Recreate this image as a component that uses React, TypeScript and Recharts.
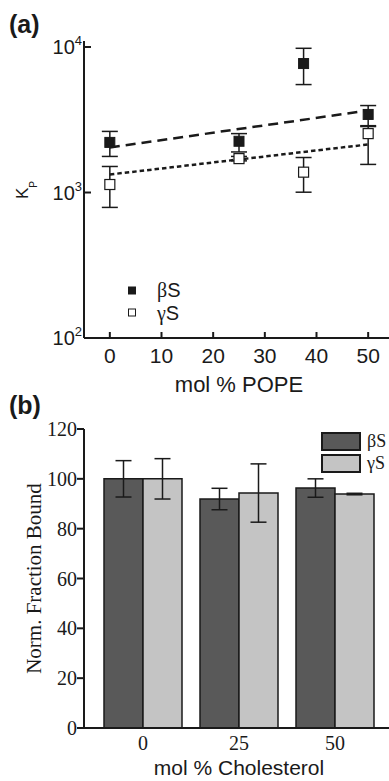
import React from "react";
import { Bar, BarChart, ComposedChart, ErrorBar, Legend, Scatter, XAxis, YAxis } from "recharts";

// panel (a): partition coefficient vs mol % POPE
const popeMol = [0, 25, 37.5, 50];
const betaKp = [2210, 2250, 7700, 3440];
const betaKpLow = [1770, 1900, 5520, 2840];
const betaKpHigh = [2630, 2540, 9800, 3960];
const gammaKp = [1135, 1710, 1380, 2540];
const gammaKpLow = [790, 1650, 1005, 1560];
const gammaKpHigh = [1510, 1770, 1740, 2880];
const fitMol = [0, 50];
const betaFit = [2040, 3660];
const gammaFit = [1330, 2140];
const popeTicks = [0, 10, 20, 30, 40, 50];
const kpTicks = [100, 1000, 10000];

// panel (b): normalized fraction bound vs mol % cholesterol
const cholesterolMol = ["0", "25", "50"];
const betaBound = [100, 91.9, 96.3];
const betaBoundErr = [7.3, 4.3, 3.7];
const gammaBound = [100, 94.3, 93.9];
const gammaBoundErr = [8.1, 11.7, 0.3];
const boundTicks = [0, 20, 40, 60, 80, 100, 120];

const SANS = "'Liberation Sans', Arial, sans-serif";
const SERIF = "'Liberation Serif', 'Times New Roman', serif";
const INK = "#1a1a1a";

const toPoints = (vals: number[], lo: number[], hi: number[]) =>
  popeMol.map((x, i) => ({ x, y: vals[i], err: [vals[i] - lo[i], hi[i] - vals[i]] }));

const betaPoints = toPoints(betaKp, betaKpLow, betaKpHigh);
const gammaPoints = toPoints(gammaKp, gammaKpLow, gammaKpHigh);
const betaFitPoints = fitMol.map((x, i) => ({ x, y: betaFit[i] }));
const gammaFitPoints = fitMol.map((x, i) => ({ x, y: gammaFit[i] }));

const boundRows = cholesterolMol.map((cat, i) => ({
  cat,
  beta: betaBound[i],
  betaErr: betaBoundErr[i],
  gamma: gammaBound[i],
  gammaErr: gammaBoundErr[i],
}));

const FilledSquare = (p: any) => (
  <rect x={p.cx - 5} y={p.cy - 5} width={10} height={10} fill={INK} stroke={INK} strokeWidth={1} />
);
const OpenSquare = (p: any) => (
  <rect x={p.cx - 5} y={p.cy - 5} width={10} height={10} fill="#fff" stroke={INK} strokeWidth={1.2} />
);
const NoDot = () => <g />;

const PowTick = ({ x, y, payload }: any) => {
  const exp = Math.round(Math.log10(payload.value));
  return (
    <g>
      <line x1={x} x2={x + 7} y1={y} y2={y} stroke={INK} strokeWidth={2} />
      <text x={x - 2} y={y + 7} textAnchor="end" fontFamily={SANS} fontSize={20} fill={INK}>
        10
        <tspan dy={-9} fontSize={13}>
          {exp}
        </tspan>
      </text>
    </g>
  );
};

const PopeTick = ({ x, y, payload }: any) => (
  <g>
    <line x1={x} x2={x} y1={y} y2={y - 6} stroke={INK} strokeWidth={2} />
    <text x={x} y={y + 25} textAnchor="middle" fontFamily={SANS} fontSize={21} fill={INK}>
      {payload.value}
    </text>
  </g>
);

const KpLabel = () => (
  <text x={28} y={199} transform="rotate(-90, 28, 199)" fontFamily={SANS} fontSize={17} fill={INK}>
    K
    <tspan dy={9} fontSize={10}>
      P
    </tspan>
  </text>
);

const keyItems = (payload: any) =>
  (payload || []).filter((e: any) => e && e.type !== "none" && typeof e.value === "string");

const ScatterKey = ({ payload }: any) => (
  <svg width={80} height={54}>
    {keyItems(payload).map((e: any, i: number) => (
      <g key={e.value}>
        <rect
          x={0.5}
          y={10 + i * 22}
          width={7}
          height={7}
          fill={e.color}
          stroke={INK}
          strokeWidth={1}
        />
        <text x={29} y={20 + i * 23} fontSize={20} fill={INK}>
          <tspan fontFamily={SERIF}>{e.value.charAt(0)}</tspan>
          <tspan fontFamily={SANS}>{e.value.slice(1)}</tspan>
        </text>
      </g>
    ))}
  </svg>
);

const BarKey = ({ payload }: any) => (
  <svg width={68} height={54}>
    {keyItems(payload).map((e: any, i: number) => (
      <g key={e.value}>
        <rect x={1} y={6 + i * 22} width={38} height={17} fill={e.color} stroke={INK} strokeWidth={2} />
        <text x={46} y={20 + i * 22} fontFamily={SERIF} fontSize={18} fill={INK}>
          {e.value}
        </text>
      </g>
    ))}
  </svg>
);

const Title = ({ text, top }: { text: string; top: number }) => (
  <svg style={{ position: "absolute", left: 0, top }} width={60} height={45}>
    <text x={9} y={33} fontFamily={SANS} fontWeight="bold" fontSize={25} fill={INK}>
      {text}
    </text>
  </svg>
);

export default function App() {
  return (
    <div
      style={{
        position: "absolute",
        left: 0,
        top: 0,
        width: 389,
        height: 781,
        overflow: "hidden",
        background: "#fff",
      }}
    >
      <Title text="(a)" top={0} />
      <div style={{ position: "absolute", left: 0, top: 0 }}>
        <ComposedChart width={420} height={400} margin={{ top: 41, right: 26, bottom: 12, left: 0 }}>
          <XAxis
            dataKey="x"
            type="number"
            domain={[-5, 55]}
            ticks={popeTicks}
            height={50}
            tickSize={0}
            tickMargin={0}
            tick={<PopeTick />}
            axisLine={{ stroke: INK, strokeWidth: 2 }}
            label={{
              value: "mol % POPE",
              position: "insideBottom",
              offset: -4,
              fontFamily: SANS,
              fontSize: 22,
              fill: INK,
            }}
          />
          <XAxis
            xAxisId="top"
            orientation="top"
            type="number"
            domain={[-5, 55]}
            height={0}
            tick={false}
            tickLine={false}
            axisLine={{ stroke: INK, strokeWidth: 2 }}
          />
          <YAxis
            dataKey="y"
            scale="log"
            domain={[100, 11000]}
            allowDataOverflow
            ticks={kpTicks}
            width={84}
            tickSize={0}
            tickMargin={0}
            tick={<PowTick />}
            axisLine={{ stroke: INK, strokeWidth: 2 }}
            label={{ content: () => <KpLabel /> }}
          />
          <Legend
            layout="vertical"
            align="center"
            verticalAlign="middle"
            content={<ScatterKey />}
            wrapperStyle={{ position: "absolute", left: 128, top: 277, width: 80, height: 54 }}
          />
          <Scatter
            data={betaFitPoints}
            legendType="none"
            shape={NoDot}
            line={{ stroke: INK, strokeWidth: 2.5, strokeDasharray: "10 6" }}
            isAnimationActive={false}
          />
          <Scatter
            data={gammaFitPoints}
            legendType="none"
            shape={NoDot}
            line={{ stroke: INK, strokeWidth: 2.5, strokeDasharray: "4.5 3" }}
            isAnimationActive={false}
          />
          <Scatter name="βS" data={betaPoints} fill={INK} shape={FilledSquare} isAnimationActive={false}>
            <ErrorBar dataKey="err" direction="y" width={8} stroke={INK} strokeWidth={1.5} />
          </Scatter>
          <Scatter name="γS" data={gammaPoints} fill="#fff" shape={OpenSquare} isAnimationActive={false}>
            <ErrorBar dataKey="err" direction="y" width={8} stroke={INK} strokeWidth={1.5} />
          </Scatter>
        </ComposedChart>
      </div>

      <Title text="(b)" top={381} />
      <div style={{ position: "absolute", left: 0, top: 390 }}>
        <BarChart
          width={420}
          height={391}
          data={boundRows}
          barGap={0}
          margin={{ top: 39, right: 26, bottom: 0, left: 0 }}
        >
          <XAxis
            dataKey="cat"
            padding={{ left: 11, right: 11 }}
            height={53}
            tickLine={false}
            tickSize={0}
            tickMargin={8}
            tick={{ fontFamily: SERIF, fontSize: 20, fill: INK }}
            axisLine={{ stroke: INK, strokeWidth: 2 }}
            label={{
              value: "mol % Cholesterol",
              position: "insideBottom",
              offset: 6,
              fontFamily: SANS,
              fontSize: 21,
              fill: INK,
            }}
          />
          <XAxis
            xAxisId="top"
            orientation="top"
            dataKey="cat"
            height={0}
            tick={false}
            tickLine={false}
            axisLine={{ stroke: INK, strokeWidth: 2 }}
          />
          <YAxis
            domain={[0, 120]}
            ticks={boundTicks}
            width={84}
            tickSize={7}
            tickMargin={0}
            tickLine={{ stroke: INK, strokeWidth: 2 }}
            tick={{ fontFamily: SERIF, fontSize: 20, fill: INK }}
            axisLine={{ stroke: INK, strokeWidth: 2 }}
            label={{
              value: "Norm. Fraction Bound",
              angle: -90,
              position: "insideLeft",
              offset: 34,
              style: { textAnchor: "middle" },
              fontFamily: SERIF,
              fontSize: 21,
              fill: INK,
            }}
          />
          <Legend
            layout="vertical"
            align="center"
            verticalAlign="middle"
            content={<BarKey />}
            wrapperStyle={{ position: "absolute", left: 321, top: 37, width: 68, height: 54 }}
          />
          <Bar
            dataKey="beta"
            name="βS"
            fill="#595959"
            stroke={INK}
            strokeWidth={1.5}
            barSize={39}
            isAnimationActive={false}
          >
            <ErrorBar dataKey="betaErr" direction="y" width={8} stroke={INK} strokeWidth={1.5} />
          </Bar>
          <Bar
            dataKey="gamma"
            name="γS"
            fill="#c4c4c4"
            stroke={INK}
            strokeWidth={1.5}
            barSize={39}
            isAnimationActive={false}
          >
            <ErrorBar dataKey="gammaErr" direction="y" width={8} stroke={INK} strokeWidth={1.5} />
          </Bar>
        </BarChart>
      </div>
    </div>
  );
}
